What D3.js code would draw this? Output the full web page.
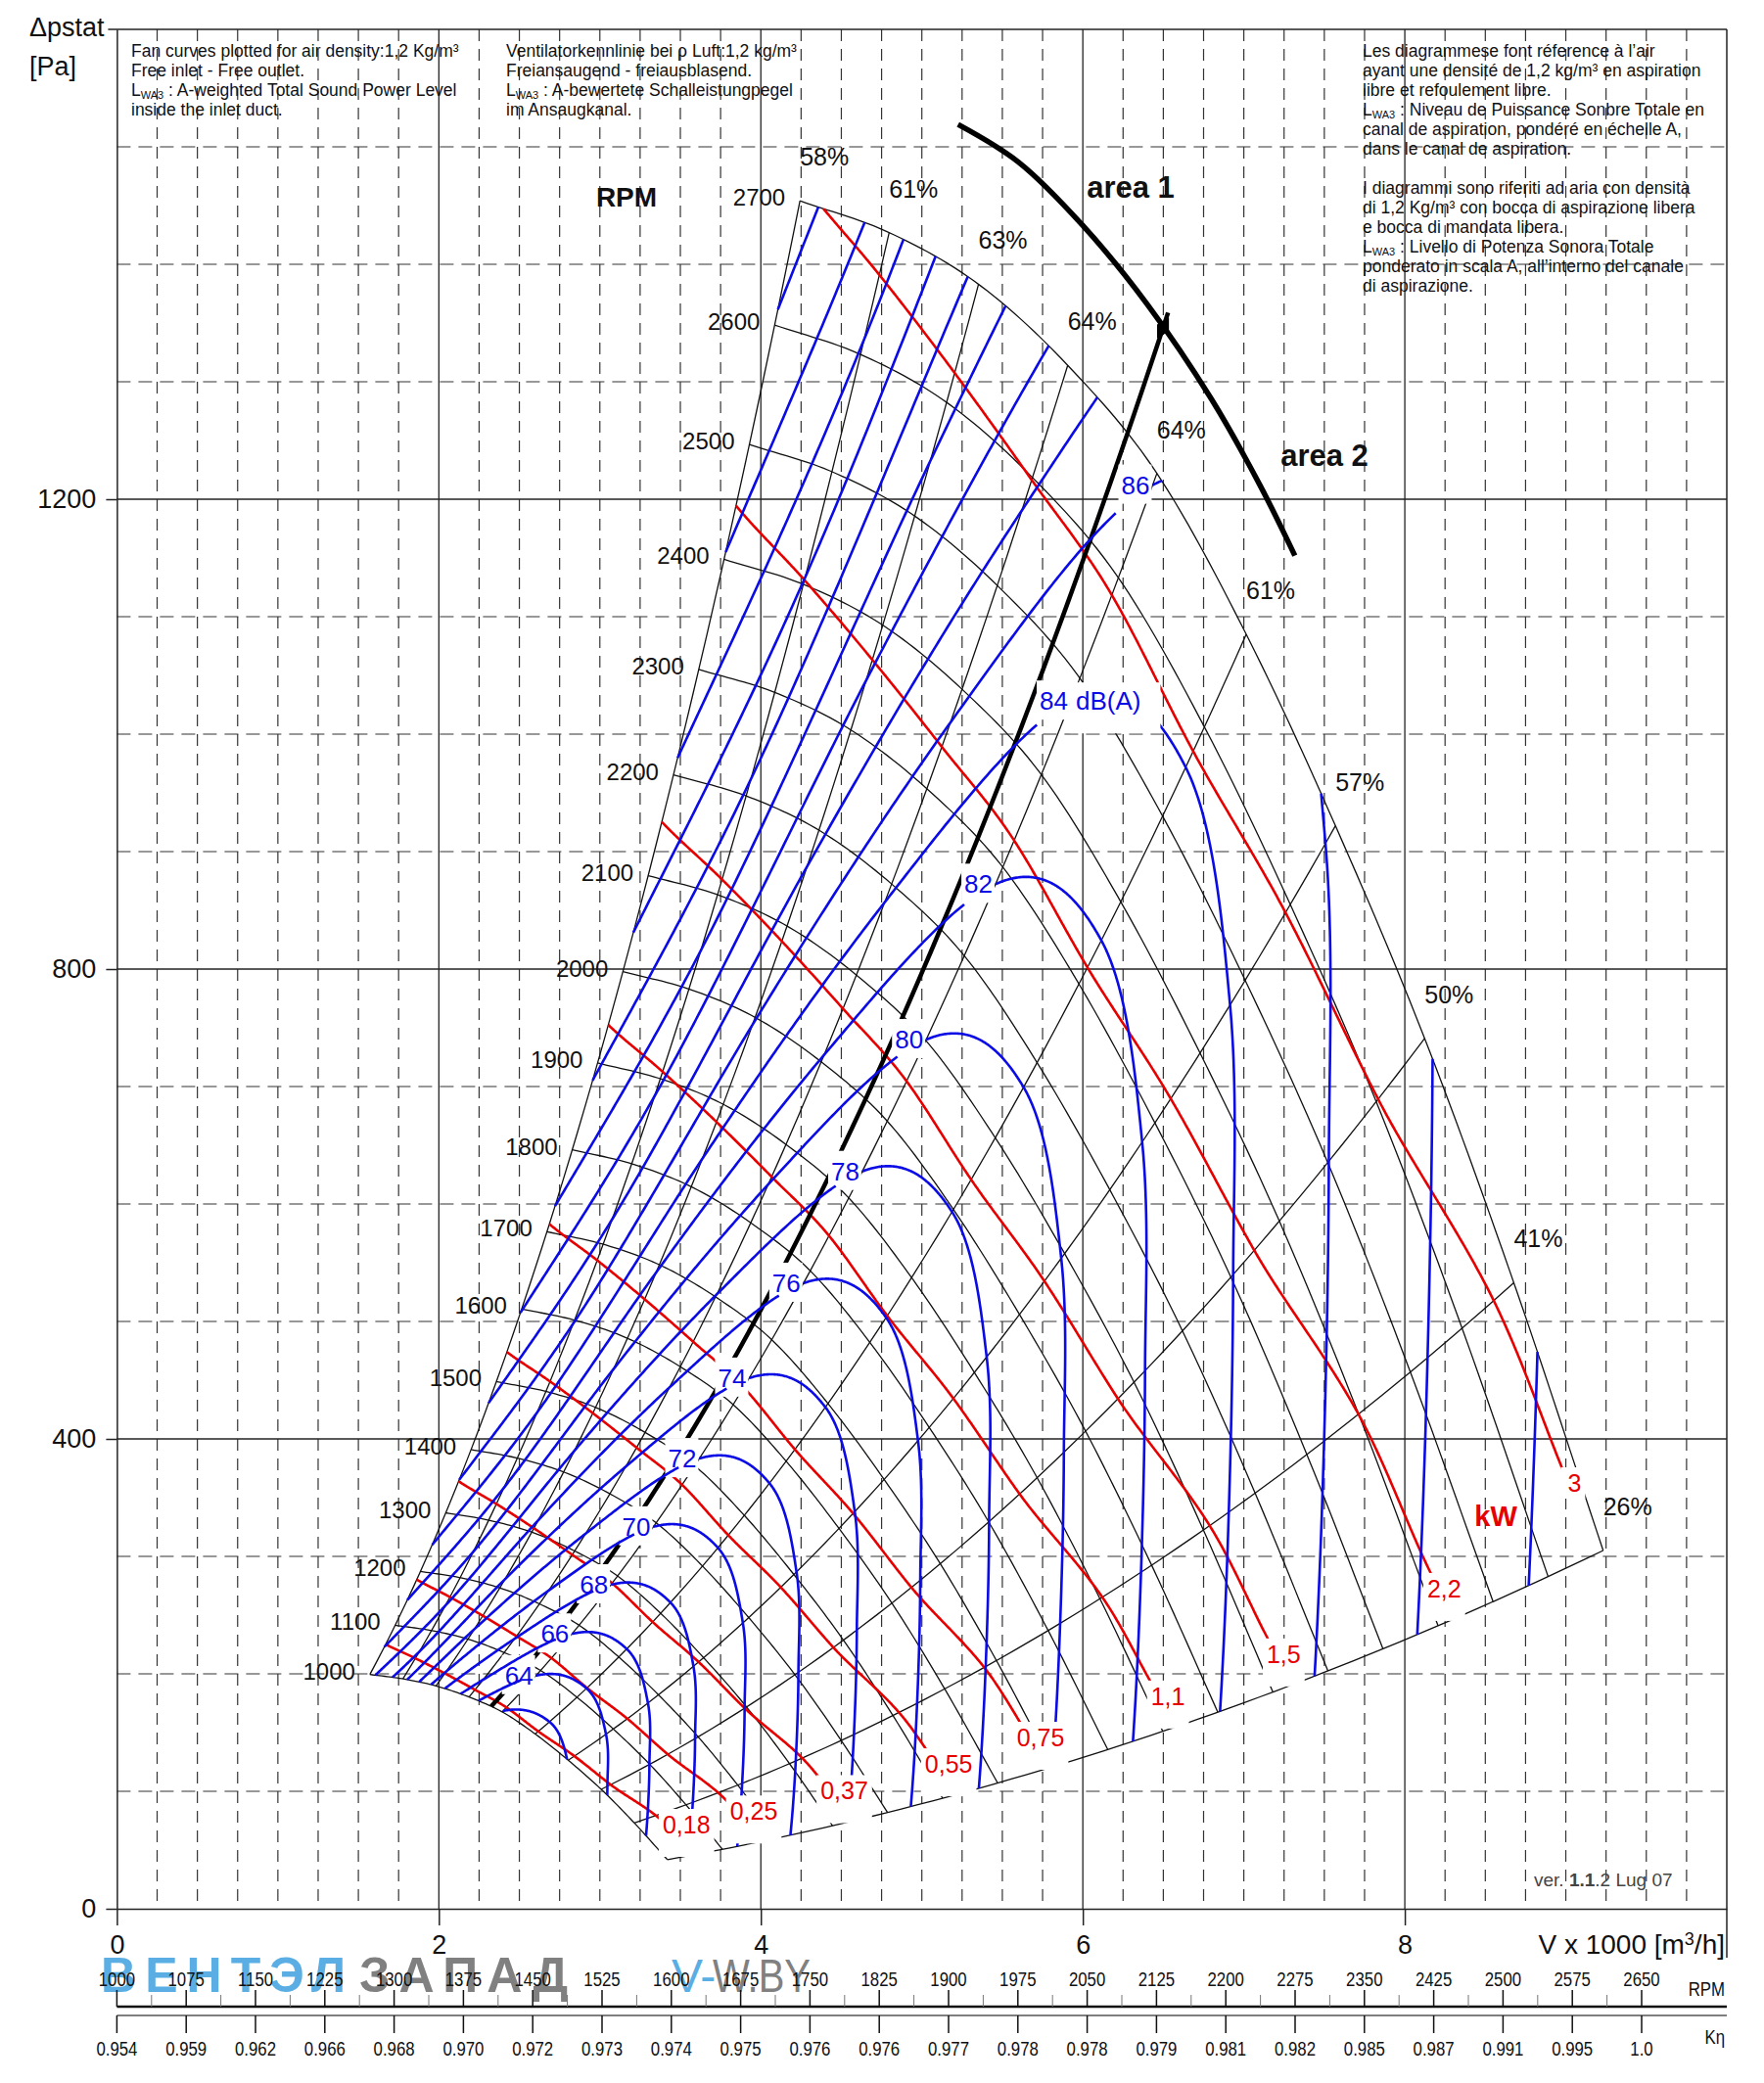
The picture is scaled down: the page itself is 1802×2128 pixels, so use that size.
<!DOCTYPE html>
<html><head><meta charset="utf-8">
<script src="https://cdn.jsdelivr.net/npm/d3@7"></script>
<style>
body{margin:0;background:#fff}
svg{display:block}
text{font-family:"Liberation Sans",Arial,Helvetica,sans-serif}
</style>
</head><body>
<svg id="c" width="1802" height="2128"></svg>
<script>
// ---------------- data ----------------
const flowTicks = [0, 2, 4, 6, 8];
const pressureTicks = [0, 400, 800, 1200];
const rpmCurves = [1000,1100,1200,1300,1400,1500,1600,1700,1800,1900,2000,2100,2200,2300,2400,2500,2600,2700];
const baseRpm = 2700;
// 2700 rpm fan curve at the ten efficiency points (flow x1000 m3/h, static pressure Pa)
const baseFlow = [4.243, 4.797, 5.352, 5.906, 6.460, 7.015, 7.569, 8.123, 8.677, 9.232];
const basePressure = [1454, 1427, 1383, 1314, 1222, 1085, 922, 741, 533, 305];
const efficiency = [58, 61, 63, 64, 64, 61, 57, 50, 41, 26];
// A-weighted sound power at 2700 rpm at the same ten points, dB(A)
const soundAt2700 = [102.8, 98.8, 93.4, 89.2, 86.1, 85.34, 86.2, 87.85, 89.55, 91.25];
const soundSlope = 56; // dB per decade of speed
const soundLevels = [62,64,66,68,70,72,74,76,78,80,82,84,86,88,90,92,94,96,98,100,102];
const labelledLevels = [64,66,68,70,72,74,76,78,80,82,84,86];
const powerKW = [0.18, 0.25, 0.37, 0.55, 0.75, 1.1, 1.5, 2.2, 3];
const powerLabels = ["0,18","0,25","0,37","0,55","0,75","1,1","1,5","2,2","3"];
const optimumPoint = 0.408;       // relative position of the bold optimum line
const diagonalEnd = 0.422, domeStart = 4/9, edgeEnd = 0.965;
const areaBoundary = [[5.225,1519],[5.6,1487],[6.0,1433],[6.4,1366],[6.8,1285],[7.1,1212],[7.317,1152]];
const rpmScale = [1000,1075,1150,1225,1300,1375,1450,1525,1600,1675,1750,1825,1900,1975,2050,2125,2200,2275,2350,2425,2500,2575,2650];
const kEta = ["0.954","0.959","0.962","0.966","0.968","0.970","0.972","0.973","0.974","0.975","0.976","0.976","0.977","0.978","0.978","0.979","0.981","0.982","0.985","0.987","0.991","0.995","1.0"];
const notesEN = ["Fan curves plotted for air density:1,2 Kg/m³","Free inlet - Free outlet.","L_WA3 : A-weighted Total Sound Power Level","inside the inlet duct."];
const notesDE = ["Ventilatorkennlinie bei ρ Luft:1,2 kg/m³","Freiansaugend - freiausblasend.","L_WA3 : A-bewertete Schalleistungpegel","im Ansaugkanal."];
const notesFRIT = ["Les diagrammese font réference à l’air","ayant une densité de 1,2 kg/m³ en aspiration","libre et refoulement libre.","L_WA3 : Niveau de Puissance Sonbre Totale en","canal de aspiration, pondéré en échelle A,","dans le canal de aspiration.","","I diagrammi sono riferiti ad aria con densità","di 1,2 Kg/m³ con bocca di aspirazione libera","e bocca di mandata libera.","L_WA3 : Livello di Potenza Sonora Totale","ponderato in scala A, all’interno del canale","di aspirazione."];

// ---------------- setup ----------------
const svg = d3.select('#c');
svg.append('rect').attr('width',1802).attr('height',2128).attr('fill','#fff');
const x = d3.scaleLinear().domain([0,10]).range([119.4,1764]);
const y = d3.scaleLinear().domain([0,1600]).range([1950,30]);
const BLUE = '#0b0be6', RED = '#e60000', INK = '#111';

const catmull = vals => t => {
  const n = vals.length - 1;
  const s = Math.max(0, Math.min(n, t * n));
  const i = Math.min(n - 1, Math.floor(s));
  const u = s - i;
  const p1 = vals[i], p2 = vals[i+1];
  const p0 = i > 0 ? vals[i-1] : 2*p1 - p2;
  const p3 = i + 2 <= n ? vals[i+2] : 2*p2 - p1;
  return 0.5*(2*p1 + (-p0+p2)*u + (2*p0-5*p1+4*p2-p3)*u*u + (-p0+3*p1-3*p2+p3)*u*u*u);
};
const Qf = catmull(baseFlow), Pf = catmull(basePressure), Ef = catmull(efficiency), Lf = catmull(soundAt2700);
const rMin = rpmCurves[0] / baseRpm, rMax = 1;
const pt = (t, r) => [r * Qf(t), r * r * Pf(t)];
const line = d3.line().x(d => x(d[0])).y(d => y(d[1]));

function segments(rOf, ta, tb, N) {
  const segs = []; let cur = null, pT = null, pR = null;
  for (let k = 0; k <= N; k++) {
    const t = ta + (tb - ta) * k / N, r = rOf(t);
    const inside = r >= rMin && r <= rMax;
    if (inside) {
      if (!cur) {
        cur = [];
        if (pT !== null) { const b = pR < rMin ? rMin : rMax; const f = (b - pR) / (r - pR); cur.push(pt(pT + (t - pT) * f, b)); }
      }
      cur.push(pt(t, r));
    } else if (cur) {
      const b = r < rMin ? rMin : rMax; const f = (b - pR) / (r - pR);
      cur.push(pt(pT + (t - pT) * f, b)); segs.push(cur); cur = null;
    }
    pT = t; pR = r;
  }
  if (cur) segs.push(cur);
  return segs;
}

// ---------------- grid ----------------
const grid = svg.append('g');
d3.range(1, 40).map(k => k * 0.25).filter(v => v % 2 !== 0).forEach(v => {
  grid.append('line').attr('x1', x(v)).attr('x2', x(v)).attr('y1', y(1600)).attr('y2', y(0))
    .attr('stroke', '#333').attr('stroke-width', 1.2).attr('stroke-dasharray', '12,8');
});
d3.range(100, 1600, 100).filter(v => v % 400 !== 0).forEach(v => {
  grid.append('line').attr('x1', x(0)).attr('x2', x(10)).attr('y1', y(v)).attr('y2', y(v))
    .attr('stroke', '#333').attr('stroke-width', 1.2).attr('stroke-dasharray', '14,8');
});
[2,4,6,8].forEach(v => grid.append('line').attr('x1', x(v)).attr('x2', x(v)).attr('y1', y(1600)).attr('y2', y(0)).attr('stroke', '#222').attr('stroke-width', 1.3));
[400,800,1200].forEach(v => grid.append('line').attr('x1', x(0)).attr('x2', x(10)).attr('y1', y(v)).attr('y2', y(v)).attr('stroke', '#222').attr('stroke-width', 1.3));
grid.append('line').attr('x1', x(0) - 9).attr('x2', x(10)).attr('y1', y(1600)).attr('y2', y(1600)).attr('stroke', '#222').attr('stroke-width', 1.5);
grid.append('line').attr('x1', x(10)).attr('x2', x(10)).attr('y1', y(1600)).attr('y2', 2000).attr('stroke', '#222').attr('stroke-width', 1.5);

// axes
const ax = svg.append('g').attr('transform', `translate(0,${y(0)})`)
  .call(d3.axisBottom(x).tickValues(flowTicks).tickSize(17).tickSizeOuter(0).tickPadding(10).tickFormat(d3.format('d')));
ax.selectAll('text').attr('font-size', 27).attr('fill', INK).style('font-family', '"Liberation Sans",Arial,sans-serif');
ax.selectAll('line,path').attr('stroke', '#222').attr('stroke-width', 1.5);
const ay = svg.append('g').attr('transform', `translate(${x(0)},0)`)
  .call(d3.axisLeft(y).tickValues(pressureTicks).tickSize(11).tickSizeOuter(0).tickPadding(10).tickFormat(d3.format('d')));
ay.selectAll('text').attr('font-size', 27).attr('fill', INK).style('font-family', '"Liberation Sans",Arial,sans-serif');
ay.selectAll('line,path').attr('stroke', '#222').attr('stroke-width', 1.5);

svg.append('text').attr('x', 30).attr('y', 37).attr('font-size', 27).attr('fill', INK).text('Δpstat');
svg.append('text').attr('x', 30).attr('y', 77).attr('font-size', 27).attr('fill', INK).text('[Pa]');
svg.append('text').attr('x', 1762).attr('y', 1996).attr('text-anchor', 'end').attr('font-size', 28).attr('fill', INK)
  .html('V x 1000 [m<tspan font-size="18" dy="-9">3</tspan><tspan dy="9">/h]</tspan>');

// notes
function notes(lines, x0, y0) {
  lines.forEach((s, k) => {
    if (!s) return;
    const t = svg.append('text').attr('x', x0).attr('y', y0 + k * 20).attr('font-size', 17.5).attr('fill', '#111');
    if (s.startsWith('L_WA3')) {
      t.append('tspan').text('L');
      t.append('tspan').attr('font-size', 11).attr('dy', 3).text('WA3');
      t.append('tspan').attr('dy', -3).text(s.slice(5));
    } else t.text(s);
  });
}
notes(notesEN, 134, 58);
notes(notesDE, 517, 58);
notes(notesFRIT, 1392, 58);

// ---------------- chart lines ----------------
const plot = svg.append('g');
// rpm curves
rpmCurves.forEach(n => {
  const r = n / baseRpm;
  const pts = d3.range(0, 121).map(k => pt(k / 120, r));
  plot.append('path').attr('d', line(pts)).attr('fill', 'none').attr('stroke', INK).attr('stroke-width', 1.3);
  const p0 = pt(0, r);
  svg.append('text').attr('x', x(p0[0]) - 15).attr('y', y(p0[1]) + 5).attr('text-anchor', 'end')
    .attr('font-size', 24).attr('fill', INK).text(n);
});
// efficiency lines
efficiency.forEach((e, i) => {
  const t = i / 9;
  const pts = d3.range(0, 61).map(k => pt(t, rMin + (rMax - rMin) * k / 60));
  plot.append('path').attr('d', line(pts)).attr('fill', 'none').attr('stroke', INK).attr('stroke-width', 1.3);
  const end = pt(t, 1);
  svg.append('text').attr('x', x(end[0]) + 25).attr('y', y(end[1]) - 36).attr('text-anchor', 'middle')
    .attr('font-size', 25).attr('fill', INK).text(e + '%');
});
// power lines
const powerAt = t => Qf(t) * Pf(t) / (3600 * Ef(t) / 100);
const powerEnds = [];
powerKW.forEach((w, j) => {
  const rOf = t => Math.cbrt(w / powerAt(t));
  const hugsEdge = rOf(1) > 0.98;
  const segs = segments(rOf, 0, hugsEdge ? edgeEnd : 1, 500);
  segs.forEach(s => plot.append('path').attr('d', line(s)).attr('fill', 'none').attr('stroke', RED).attr('stroke-width', 2.6));
  const last = segs[segs.length - 1];
  powerEnds.push({ p: last[last.length - 1], label: powerLabels[j], edge: hugsEdge });
});
// optimum (bold) line
const opt = d3.range(0, 61).map(k => pt(optimumPoint, rMin + (1.04 - rMin) * k / 60));
plot.append('path').attr('d', line(opt)).attr('fill', 'none').attr('stroke', '#000').attr('stroke-width', 4.5);
// area boundary
plot.append('path').attr('d', line.curve(d3.curveCatmullRom)(areaBoundary)).attr('fill', 'none').attr('stroke', '#000').attr('stroke-width', 5.5);
line.curve(d3.curveLinear);
const mk = pt(optimumPoint, 1.035);
plot.append('path').attr('d', d3.symbol(d3.symbolDiamond, 170)()).attr('transform', `translate(${x(mk[0])},${y(mk[1])}) rotate(30)`).attr('fill', '#000');

// dB label backgrounds + labels
const lblG = svg.append('g');
const blueG = svg.append('g');
const topBg = svg.append('g');
const lblT = svg.append('g');
soundLevels.forEach(L => {
  const rOf = t => Math.pow(10, (L - Lf(t)) / soundSlope);
  segments(rOf, 0, diagonalEnd, 300).forEach(s => blueG.append('path').attr('d', line(s)).attr('fill', 'none').attr('stroke', BLUE).attr('stroke-width', 2.6));
  segments(rOf, domeStart, 1, 500).forEach(s => blueG.append('path').attr('d', line(s)).attr('fill', 'none').attr('stroke', BLUE).attr('stroke-width', 2.6));
  if (labelledLevels.includes(L)) {
    const r = rOf(domeStart);
    const p = pt(domeStart, r);
    const tx = lblT.append('text').attr('x', x(p[0]) - 3).attr('y', y(p[1]) + 9).attr('text-anchor', 'end')
      .attr('font-size', 26).attr('fill', BLUE).text(L);
    let bb = tx.node().getBBox();
    if (L === 84) {
      const t2 = lblT.append('text').attr('x', x(p[0]) + 5).attr('y', y(p[1]) + 9).attr('font-size', 26).attr('fill', BLUE).text('dB(A)');
      const b2 = t2.node().getBBox();
      topBg.append('rect').attr('x', b2.x - 6).attr('y', b2.y - 4).attr('width', b2.width + 26).attr('height', b2.height + 22).attr('fill', '#fff');
    }
    lblG.append('rect').attr('x', bb.x - 3).attr('y', bb.y - 6).attr('width', bb.width + 5).attr('height', bb.height + 10).attr('fill', '#fff');
  }
});

// power labels (white box reaching to the end of the line)
powerEnds.forEach(o => {
  const ex = x(o.p[0]), ey = y(o.p[1]);
  const cx = o.edge ? ex + 11 : ex - 12, cy = o.edge ? ey + 11 : ey - 30;
  const t = svg.append('text').attr('x', cx).attr('y', cy + 9).attr('text-anchor', 'middle').attr('font-size', 25).attr('fill', RED).text(o.label);
  const bb = t.node().getBBox();
  const x0 = Math.min(bb.x - 4, ex - 3), x1 = Math.max(bb.x + bb.width + 4, ex + 6);
  const y0 = Math.min(bb.y - 2, ey - 3), y1 = Math.max(bb.y + bb.height + 2, ey + 3);
  svg.insert('rect', () => t.node()).attr('x', x0).attr('y', y0).attr('width', x1 - x0).attr('height', y1 - y0).attr('fill', '#fff');
});

// titles
svg.append('text').attr('x', 640).attr('y', 211).attr('text-anchor', 'middle').attr('font-size', 28).attr('font-weight', 'bold').attr('fill', INK).text('RPM');
svg.append('text').attr('x', 1155).attr('y', 202).attr('text-anchor', 'middle').attr('font-size', 31).attr('font-weight', 'bold').attr('fill', INK).text('area 1');
svg.append('text').attr('x', 1353).attr('y', 476).attr('text-anchor', 'middle').attr('font-size', 31).attr('font-weight', 'bold').attr('fill', INK).text('area 2');
svg.append('text').attr('x', 1528).attr('y', 1559).attr('text-anchor', 'middle').attr('font-size', 29).attr('font-weight', 'bold').attr('fill', RED).text('kW');
svg.append('text').attr('x', 1567).attr('y', 1927).attr('font-size', 19).attr('fill', '#444')
  .html('ver. <tspan font-weight="bold">1.1</tspan>.2 Lug 07');

// ---------------- rpm / k-eta scale ----------------
const xr = d3.scaleLinear().domain([1000, 2650]).range([119.4, 119.4 + 22 * 70.8]);
// watermark
svg.append('text').attr('x', 103).attr('y', 2035).attr('font-size', 50).attr('font-weight', 'bold').attr('fill', '#5aaee3').attr('textLength', 250).attr('lengthAdjust', 'spacing').text('ВЕНТЭЛ');
svg.append('text').attr('x', 367).attr('y', 2035).attr('font-size', 50).attr('font-weight', 'bold').attr('fill', '#808080').attr('textLength', 213).attr('lengthAdjust', 'spacing').text('ЗАПАД');
svg.append('text').attr('x', 686).attr('y', 2035).attr('font-size', 48).attr('fill', '#5aaee3').text('V-');
svg.append('text').attr('x', 728).attr('y', 2035).attr('font-size', 48).attr('fill', '#808080').attr('textLength', 100).attr('lengthAdjust', 'spacingAndGlyphs').text('W.BY');

const sc = svg.append('g');
sc.append('line').attr('x1', x(0)).attr('x2', x(10)).attr('y1', 2050).attr('y2', 2050).attr('stroke', '#111').attr('stroke-width', 2.5);
sc.append('line').attr('x1', x(0)).attr('x2', x(10)).attr('y1', 2059).attr('y2', 2059).attr('stroke', '#555').attr('stroke-width', 1.6);
rpmScale.forEach((v, i) => {
  const px = xr(v);
  sc.append('line').attr('x1', px).attr('x2', px).attr('y1', 2033).attr('y2', 2050).attr('stroke', '#111').attr('stroke-width', 1.5);
  sc.append('line').attr('x1', px).attr('x2', px).attr('y1', 2059).attr('y2', 2077).attr('stroke', '#111').attr('stroke-width', 1.5);
  if (i < rpmScale.length - 1) {
    const mx = xr(v + 37.5);
    sc.append('line').attr('x1', mx).attr('x2', mx).attr('y1', 2038).attr('y2', 2050).attr('stroke', '#777').attr('stroke-width', 1);
  }
  sc.append('text').attr('transform', `translate(${px},2029) scale(0.8,1)`).attr('text-anchor', 'middle').attr('font-size', 21).attr('fill', '#111').text(v);
  sc.append('text').attr('transform', `translate(${px},2100) scale(0.8,1)`).attr('text-anchor', 'middle').attr('font-size', 21).attr('fill', '#111').text(kEta[i]);
});
sc.append('text').attr('transform', 'translate(1762,2039) scale(0.8,1)').attr('text-anchor', 'end').attr('font-size', 21).attr('fill', '#111').text('RPM');
sc.append('text').attr('transform', 'translate(1762,2088) scale(0.8,1)').attr('text-anchor', 'end').attr('font-size', 21).attr('fill', '#111').text('Kη');
</script>
</body></html>
